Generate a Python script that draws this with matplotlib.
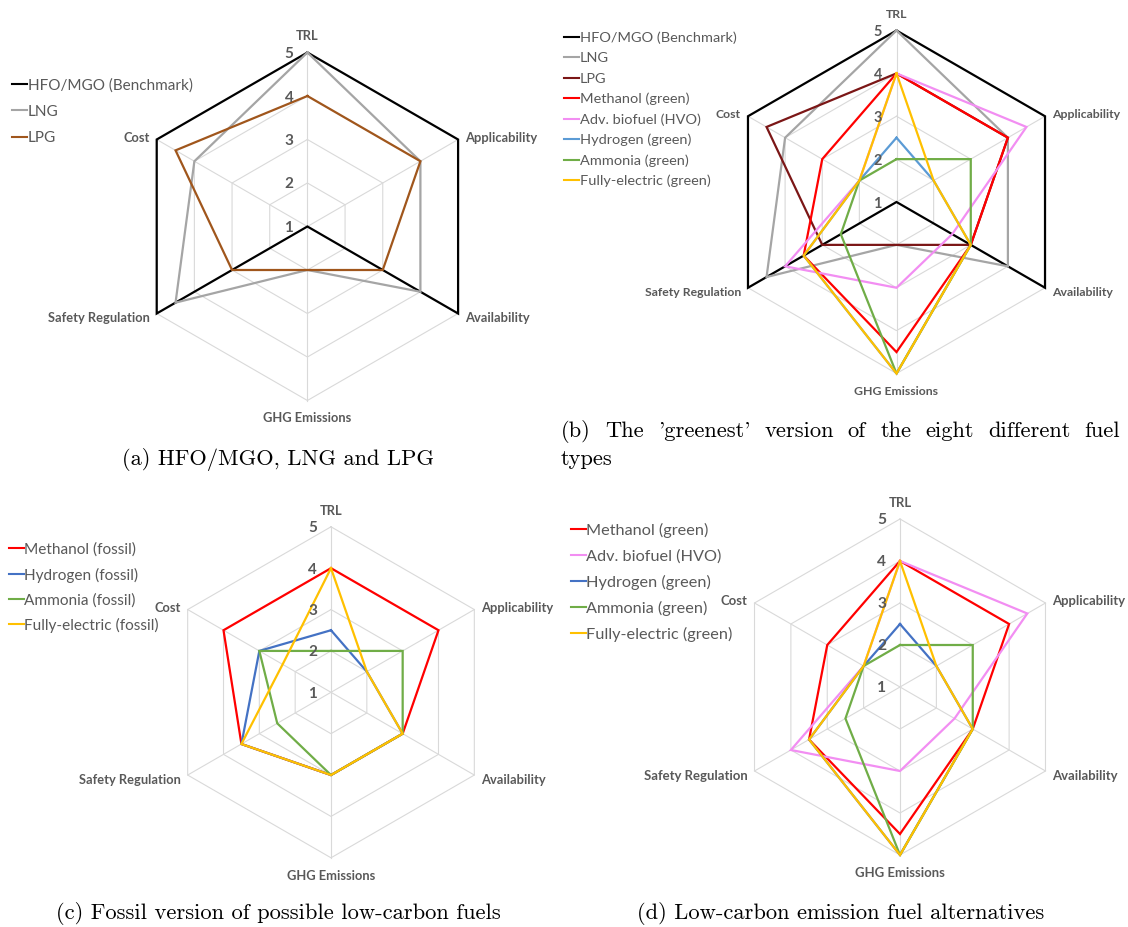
import matplotlib
matplotlib.use("Agg")
import numpy as np
import matplotlib.pyplot as plt
from matplotlib.lines import Line2D

# ---------------------------------------------------------------- data
categories = ["TRL", "Applicability", "Availability", "GHG Emissions",
              "Safety Regulation", "Cost"]
scale_ticks = [1, 2, 3, 4, 5]

hfo_mgo = [5, 5, 5, 1, 5, 5]
lng = [5, 4, 4, 2, 4.5, 4]
lpg = [4, 4, 3, 2, 3, 4.5]

methanol_green = [4, 4, 3, 4.5, 3.5, 3]
hvo = [4, 4.5, 2.5, 3, 4, 2]
hydrogen_green = [2.5, 2, 3, 5, 3.5, 2]
ammonia_green = [2, 3, 3, 5, 2.5, 2]
electric_green = [4, 2, 3, 5, 3.5, 2]

methanol_fossil = [4, 4, 3, 3, 3.5, 4]
hydrogen_fossil = [2.5, 2, 3, 3, 3.5, 3]
ammonia_fossil = [2, 3, 3, 3, 2.5, 3]
electric_fossil = [4, 2, 3, 3, 3.5, 2.35]

captions = {
    "a": "(a) HFO/MGO, LNG and LPG",
    "b": ["(b) The 'greenest' version of the eight different fuel", "types"],
    "c": "(c) Fossil version of possible low-carbon fuels",
    "d": "(d) Low-carbon emission fuel alternatives",
}

# ---------------------------------------------------------------- style
W, H, DPI = 1128, 927, 100
SANS = ["Lato", "DejaVu Sans"]
SERIF = ["cmr10", "DejaVu Serif"]
TXT = "#595959"
GRID = "#D9D9D9"
C_HFO, C_LNG = "#000000", "#A5A5A5"
C_LPG_A, C_LPG_B = "#A0561C", "#7B1616"
C_MEOH, C_HVO = "#FF0000", "#F28EF2"
C_H2_B, C_H2 = "#5B9BD5", "#4472C4"
C_NH3, C_ELEC = "#70AD47", "#FFC000"
LW = 1.6

fig = plt.figure(figsize=(W / DPI, H / DPI), dpi=DPI)
fig.patch.set_facecolor("white")
renderer = fig.canvas.get_renderer()

theta = np.deg2rad(90 - 60 * np.arange(len(categories)))


def fx(px):
    return px / W


def fy(py):
    return 1 - py / H


def fit_size(text, target_px, **kw):
    t = fig.text(0, 0, text, fontsize=10, **kw)
    w = t.get_window_extent(renderer).width
    t.remove()
    return 10 * target_px / w


def radar(cx, cy, radius, series, label_px):
    unit = radius / (scale_ticks[-1] - scale_ticks[0])
    half = radius + 30
    ax = fig.add_axes([fx(cx - half), fy(cy + half), 2 * half / W, 2 * half / H])
    lim = half / unit
    ax.set_xlim(-lim, lim)
    ax.set_ylim(-lim, lim)
    ax.axis("off")

    base = scale_ticks[0]
    top = scale_ticks[-1] - base
    # hexagonal grid rings and spokes
    for lvl in scale_ticks[1:]:
        r = lvl - base
        ax.plot(np.append(r * np.cos(theta), r * np.cos(theta[0])),
                np.append(r * np.sin(theta), r * np.sin(theta[0])),
                color=GRID, lw=0.8, zorder=1)
    for t in theta:
        ax.plot([0, top * np.cos(t)], [0, top * np.sin(t)],
                color=GRID, lw=0.8, zorder=1)

    # series polygons
    for k, (vals, color) in enumerate(series):
        r = np.asarray(vals, dtype=float) - base
        xs = r * np.cos(theta)
        ys = r * np.sin(theta)
        ax.plot(np.append(xs, xs[0]), np.append(ys, ys[0]), color=color,
                lw=LW, solid_joinstyle="miter", zorder=3 + k)

    fs = fit_size("Safety Regulation", label_px, family=SANS, weight="bold")
    # radial scale labels
    for lvl in scale_ticks:
        ax.annotate(str(lvl), (0, lvl - base), xytext=(-18.5, 0),
                    textcoords="offset pixels", ha="center",
                    va="center_baseline", fontsize=fs * 1.18, weight="bold",
                    color=TXT, family=SANS, zorder=20)
    # category labels
    offsets = [((0, 17), "center"), ((7, 3), "left"), ((7, -3.5), "left"),
               ((0, -17), "center"), ((-7, -3.5), "right"), ((-7, 3), "right")]
    for name, t, (off, ha) in zip(categories, theta, offsets):
        ax.annotate(name, (top * np.cos(t), top * np.sin(t)), xytext=off,
                    textcoords="offset pixels", ha=ha, va="center_baseline",
                    fontsize=fs, weight="bold", color=TXT, family=SANS)
    return ax


def legend(x0, y0, pitch, entries, ref_text, ref_px):
    fs = fit_size(ref_text, ref_px, family=SANS)
    for i, (name, color) in enumerate(entries):
        y = y0 + i * pitch
        fig.add_artist(Line2D([fx(x0), fx(x0 + 15)], [fy(y), fy(y)],
                              color=color, lw=1.5, transform=fig.transFigure))
        fig.text(fx(x0 + 15.5), fy(y), name, fontsize=fs, color=TXT,
                 family=SANS, ha="left", va="center_baseline")


# ---------------------------------------------------------------- panel (a)
radar(307.4, 226.5, 174, [(hfo_mgo, C_HFO), (lng, C_LNG), (lpg, C_LPG_A)], 102)
legend(12, 84, 26.3,
       [("HFO/MGO (Benchmark)", C_HFO), ("LNG", C_LNG), ("LPG", C_LPG_A)],
       "HFO/MGO (Benchmark)", 164)

# ---------------------------------------------------------------- panel (b)
series_b = [(hfo_mgo, C_HFO), (lng, C_LNG), (lpg, C_LPG_B),
            (methanol_green, C_MEOH), (hvo, C_HVO), (hydrogen_green, C_H2_B),
            (ammonia_green, C_NH3), (electric_green, C_ELEC)]
radar(896.5, 202, 171.5, series_b, 97)
legend(564, 36.7, 20.5,
       [("HFO/MGO (Benchmark)", C_HFO), ("LNG", C_LNG), ("LPG", C_LPG_B),
        ("Methanol (green)", C_MEOH), ("Adv. biofuel (HVO)", C_HVO),
        ("Hydrogen (green)", C_H2_B), ("Ammonia (green)", C_NH3),
        ("Fully-electric (green)", C_ELEC)],
       "HFO/MGO (Benchmark)", 156)

# ---------------------------------------------------------------- panel (c)
series_c = [(methanol_fossil, C_MEOH), (hydrogen_fossil, C_H2),
            (ammonia_fossil, C_NH3), (electric_fossil, C_ELEC)]
radar(331, 692.3, 165.5, series_c, 102)
legend(9, 548.3, 25.2,
       [("Methanol (fossil)", C_MEOH), ("Hydrogen (fossil)", C_H2),
        ("Ammonia (fossil)", C_NH3), ("Fully-electric (fossil)", C_ELEC)],
       "Fully-electric (fossil)", 135)

# ---------------------------------------------------------------- panel (d)
series_d = [(methanol_green, C_MEOH), (hvo, C_HVO), (hydrogen_green, C_H2),
            (ammonia_green, C_NH3), (electric_green, C_ELEC)]
radar(900, 687, 168, series_d, 104)
legend(571, 529, 26,
       [("Methanol (green)", C_MEOH), ("Adv. biofuel (HVO)", C_HVO),
        ("Hydrogen (green)", C_H2), ("Ammonia (green)", C_NH3),
        ("Fully-electric (green)", C_ELEC)],
       "Fully-electric (green)", 146)

# ---------------------------------------------------------------- captions
CAP_FS = 16.2
fig.text(fx(278), fy(465), captions["a"], fontsize=CAP_FS, family=SERIF,
         ha="center", va="baseline")
fig.text(fx(278), fy(919), captions["c"], fontsize=CAP_FS, family=SERIF,
         ha="center", va="baseline")
fig.text(fx(840.5), fy(919), captions["d"], fontsize=CAP_FS, family=SERIF,
         ha="center", va="baseline")

# justified first line of caption (b)
line1, line2 = captions["b"]
words = line1.split()
widths = []
for w_ in words:
    t = fig.text(0, 0, w_, fontsize=CAP_FS, family=SERIF)
    widths.append(t.get_window_extent(renderer).width)
    t.remove()
left, right = 561, 1120
gap = (right - left - sum(widths)) / (len(words) - 1)
x = left
for w_, wd in zip(words, widths):
    fig.text(fx(x), fy(437), w_, fontsize=CAP_FS, family=SERIF,
             ha="left", va="baseline")
    x += wd + gap
fig.text(fx(left), fy(465), line2, fontsize=CAP_FS, family=SERIF,
         ha="left", va="baseline")

fig.savefig("out.png", dpi=DPI, facecolor="white")
